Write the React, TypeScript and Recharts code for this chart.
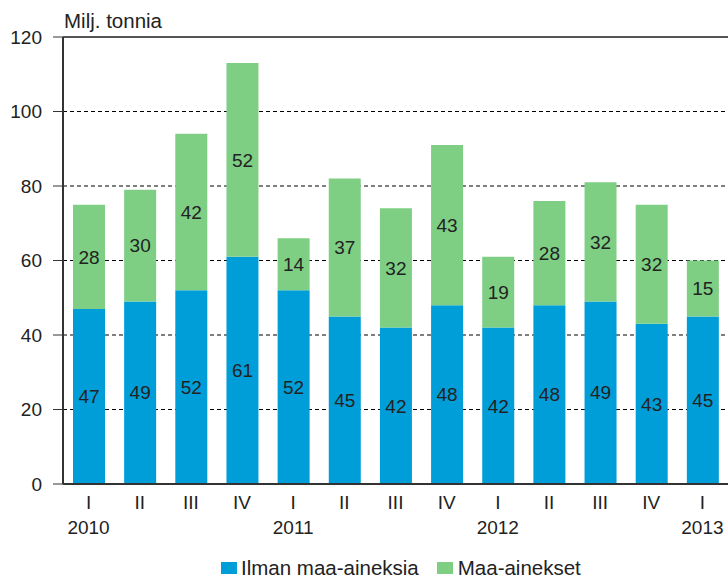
import React from "react"
import { BarChart, Bar, XAxis, YAxis, CartesianGrid, ReferenceLine, LabelList } from "recharts"

const quarters = ["I", "II", "III", "IV", "I", "II", "III", "IV", "I", "II", "III", "IV", "I"]
const years = ["2010", "", "", "", "2011", "", "", "", "2012", "", "", "", "2013"]
const ilman = [47, 49, 52, 61, 52, 45, 42, 48, 42, 48, 49, 43, 45]
const maa = [28, 30, 42, 52, 14, 37, 32, 43, 19, 28, 32, 32, 15]
const yTicks = [0, 20, 40, 60, 80, 100, 120]

const BLUE = "#009ed8"
const GREEN = "#7ecf84"
const FONT = "'Liberation Sans', Arial, sans-serif"

const data = quarters.map((q, i) => ({
  key: `${q}-${i}`,
  quarter: q,
  year: years[i],
  ilman: ilman[i],
  maa: maa[i],
}))

function QuarterTick(props: any) {
  const { x, y, payload } = props
  const row = data[payload.index]
  return (
    <g>
      <text x={x} y={y + 17} textAnchor="middle" fontSize={19} fill="#222" fontFamily={FONT}>
        {row.quarter}
      </text>
      {row.year && (
        <text x={x} y={y + 42} textAnchor="middle" fontSize={19} fill="#222" fontFamily={FONT}>
          {row.year}
        </text>
      )}
    </g>
  )
}

export default function App() {
  return (
    <div style={{ position: "relative", width: 728, height: 578, overflow: "hidden", fontFamily: FONT, color: "#222" }}>
      <style>{"html,body{margin:0;overflow:hidden}"}</style>
      <div style={{ position: "absolute", left: 8, top: 8, width: 720, height: 570 }}>
        <div style={{ position: "absolute", left: 56, top: 3, fontSize: 20.5, lineHeight: "20px" }}>Milj. tonnia</div>
        <BarChart
          width={720}
          height={570}
          data={data}
          margin={{ top: 29, right: 0, left: 0, bottom: 0 }}
          barSize={32}
        >
          <CartesianGrid vertical={false} stroke="#000" strokeDasharray="4 3" />
          <XAxis
            dataKey="key"
            height={94}
            tickLine={false}
            axisLine={{ stroke: "#333", strokeWidth: 2 }}
            tick={<QuarterTick />}
            interval={0}
          />
          <YAxis
            domain={[0, 120]}
            ticks={yTicks}
            width={55}
            tickSize={10}
            tickMargin={11}
            axisLine={{ stroke: "#333", strokeWidth: 2 }}
            tickLine={{ stroke: "#333" }}
            tick={{ fontSize: 19, fill: "#222", fontFamily: FONT }}
          />
          <ReferenceLine y={120} stroke="#555" strokeWidth={2} />
          <Bar dataKey="ilman" stackId="a" fill={BLUE} isAnimationActive={false}>
            <LabelList dataKey="ilman" position="center" fill="#222" fontSize={19} fontFamily={FONT} />
          </Bar>
          <Bar dataKey="maa" stackId="a" fill={GREEN} isAnimationActive={false}>
            <LabelList dataKey="maa" position="center" fill="#222" fontSize={19} fontFamily={FONT} />
          </Bar>
        </BarChart>
        <div
          style={{
            position: "absolute",
            left: 213,
            top: 550,
            display: "flex",
            alignItems: "center",
            fontSize: 20.5,
            lineHeight: "20px",
            whiteSpace: "nowrap",
          }}
        >
          <span style={{ width: 16, height: 12, background: BLUE, display: "inline-block", marginRight: 4 }} />
          <span style={{ marginRight: 18 }}>Ilman maa-aineksia</span>
          <span style={{ width: 16, height: 12, background: GREEN, display: "inline-block", marginRight: 5 }} />
          <span>Maa-ainekset</span>
        </div>
      </div>
    </div>
  )
}
